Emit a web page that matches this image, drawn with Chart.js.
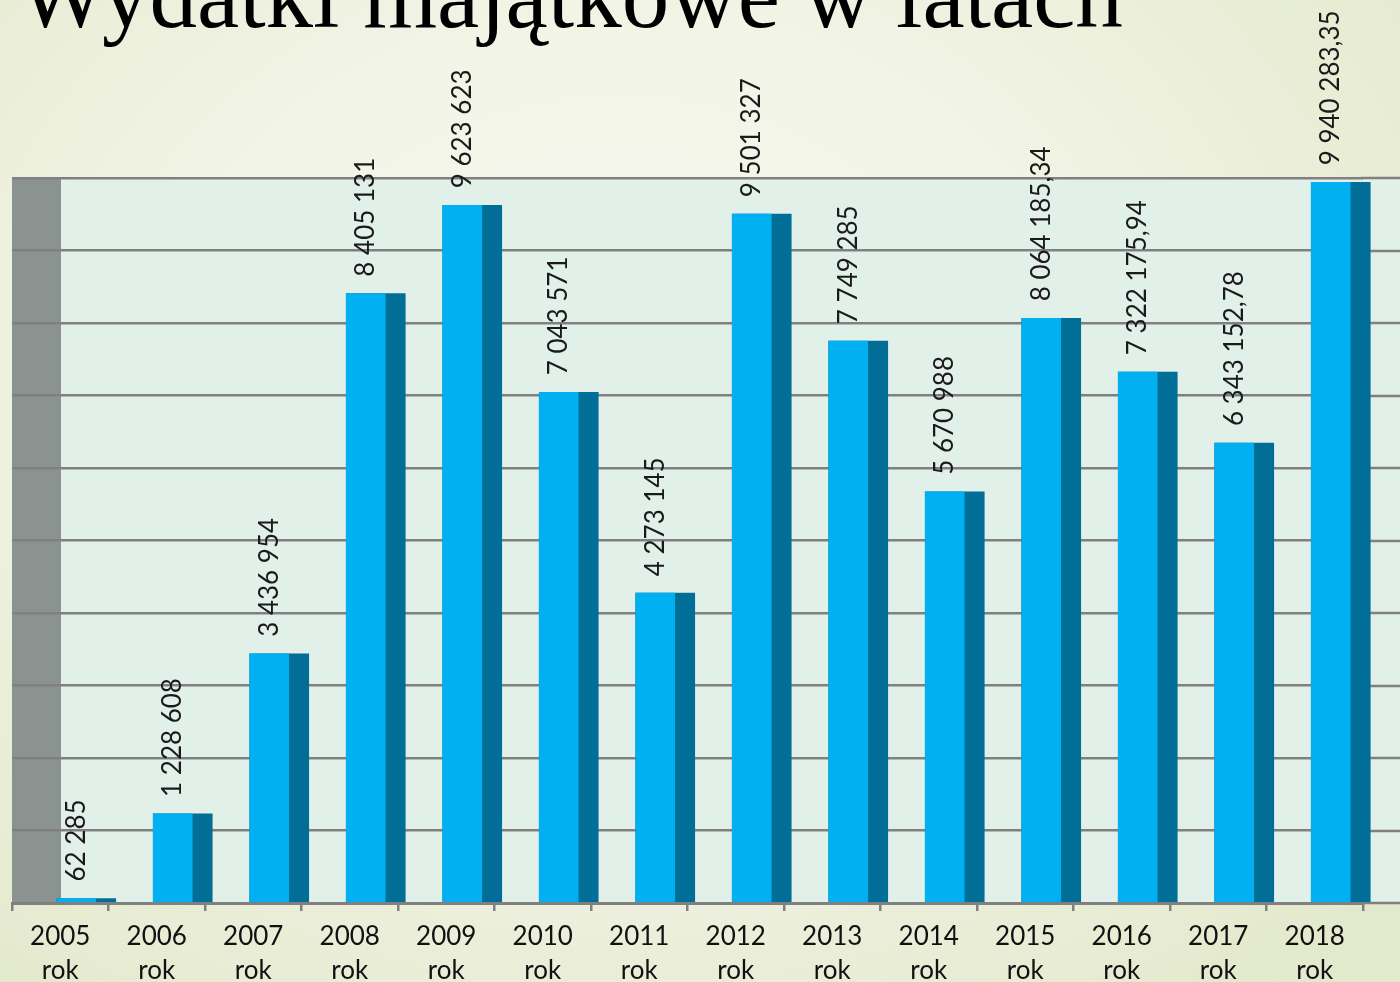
<!DOCTYPE html>
<html>
<head>
<meta charset="utf-8">
<script src="https://cdn.jsdelivr.net/npm/chart.js@4"></script>
<style>
  html, body { margin: 0; padding: 0; overflow: hidden; }
  body {
    width: 1400px; height: 982px; position: relative;
    background: radial-gradient(ellipse 1000px 800px at 620px 380px, #f8f8f1 0%, #f2f4e6 45%, #e3e9cc 100%);
  }
  #title {
    position: absolute; left: 18px; top: -52px;
    font-family: "Liberation Serif", "Times New Roman", serif;
    font-size: 95px; line-height: 94px; color: #000; white-space: nowrap; z-index: 2;
  }
  canvas { position: absolute; left: 0; top: 0; }
</style>
</head>
<body>
<div id="title">Wydatki majątkowe w latach</div>
<canvas id="data-set" width="1400" height="982"></canvas>
<script>
const context = document.getElementById("data-set").getContext("2d");

//Values
const years = ["2005", "2006", "2007", "2008", "2009", "2010", "2011", "2012", "2013", "2014", "2015", "2016", "2017", "2018"];
const values = [62285, 1228608, 3436954, 8405131, 9623623, 7043571, 4273145, 9501327, 7749285, 5670988, 8064185.34, 7322175.94, 6343152.78, 9940283.35];
const yMax = 10000000;
const yStep = 1000000;

const labels = years.map(y => [y, "rok"]);

//Polish number format: space for thousands, comma for decimals
function formatPl(n){
	const fixed = Number.isInteger(n) ? n.toFixed(0) : n.toFixed(2);
	const parts = fixed.split(".");
	parts[0] = parts[0].replace(/\B(?=(\d{3})+(?!\d))/g, " ");
	return parts.join(",");
}

const labelFont = "Lato, 'Open Sans', sans-serif";

//Back wall, side wall and extended grid lines
const wallPlugin = {
	id: "wall",
	beforeDraw(chart){
		const ctx = chart.ctx;
		const area = chart.chartArea;
		const y = chart.scales.y;
		ctx.save();
		ctx.fillStyle = "#e2f0ea";
		ctx.fillRect(area.left + 49, area.top, chart.width - area.left - 49, area.bottom - area.top);
		ctx.fillStyle = "#8a9390";
		ctx.fillRect(area.left, area.top, 49, area.bottom - area.top);
		ctx.strokeStyle = "#808080";
		ctx.lineWidth = 2.5;
		for(let v = 0; v <= yMax; v += yStep){
			const py = Math.round(y.getPixelForValue(v));
			ctx.beginPath();
			ctx.moveTo(area.right - 2, py);
			ctx.lineTo(chart.width, py);
			ctx.stroke();
		}
		ctx.restore();
	},
	beforeDatasetDraw(chart, args){
		const ds = chart.data.datasets[args.index];
		chart.ctx.save();
		chart.ctx.translate(ds.shiftX || 0, 0);
	},
	afterDatasetDraw(chart){
		chart.ctx.restore();
	},
	afterDatasetsDraw(chart){
		const ctx = chart.ctx;
		const meta = chart.getDatasetMeta(0);
		ctx.save();
		ctx.fillStyle = "#1a1a1a";
		ctx.font = "26px " + labelFont;
		ctx.textAlign = "left";
		ctx.textBaseline = "middle";
		meta.data.forEach((bar, i) => {
			ctx.save();
			ctx.translate(bar.x + 16, bar.y - 17);
			ctx.rotate(-Math.PI / 2);
			ctx.fillText(formatPl(values[i]), 0, 0);
			ctx.restore();
		});
		ctx.restore();
	}
};

let bars = new Chart(context, {
	type: "bar",
	data: {
		labels,
		datasets: [{
			label: "front",
			data: values,
			backgroundColor: "#00b0f0",
			barThickness: 39,
			grouped: false,
			clip: false,
			shiftX: 16
		}, {
			label: "side",
			data: values,
			backgroundColor: "#006e96",
			barThickness: 59,
			grouped: false,
			clip: false,
			shiftX: 26
		}]
	},
	options: {
		responsive: false,
		animation: false,
		layout: { padding: { left: 12, right: 37, top: 178, bottom: 0 } },
		plugins: { legend: { display: false }, tooltip: { enabled: false } },
		scales: {
			x: {
				grid: { drawOnChartArea: false, drawTicks: true, tickLength: 8, color: "#808080", lineWidth: 2.5 },
				border: { display: true, color: "#808080", width: 3 },
				ticks: { color: "#111", font: { family: labelFont, size: 26, lineHeight: 1.3 }, padding: 9, maxRotation: 0, autoSkip: false },
				afterFit(scale){ scale.height = 79; }
			},
			y: {
				min: 0,
				max: yMax,
				ticks: { display: false, stepSize: yStep },
				grid: { color: "#808080", lineWidth: 2.5, drawTicks: false },
				border: { display: false },
				afterFit(scale){ scale.width = 0; }
			}
		}
	},
	plugins: [wallPlugin]
});
</script>
</body>
</html>
